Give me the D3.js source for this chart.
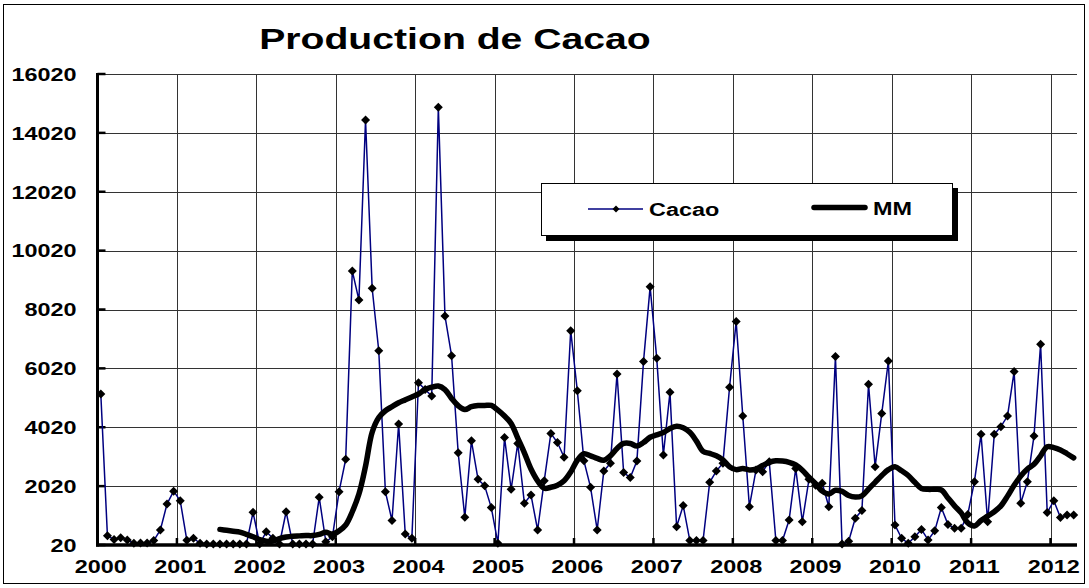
<!DOCTYPE html>
<html>
<head>
<meta charset="utf-8">
<script src="https://cdn.jsdelivr.net/npm/d3@7"></script>
<style>
  body { margin: 0; background: #fff; }
  text { font-family: "Liberation Sans", Arial, sans-serif; font-weight: bold; fill: #000; }
</style>
</head>
<body>
<svg id="chart" width="1089" height="588"></svg>
<script>
// monthly values, jan 2000 -> apr 2012
var yearLabels = ["2000","2001","2002","2003","2004","2005","2006","2007","2008","2009","2010","2011","2012"];
var yTicks = [20, 2020, 4020, 6020, 8020, 10020, 12020, 14020, 16020];

var cacao = [
  5150, 330, 210, 270, 190, 80, 90, 90, 170, 530, 1410, 1850,
  1525, 180, 250, 80, 50, 50, 50, 50, 50, 50, 50, 1130,
  54, 470, 250, 54, 1150, 54, 54, 54, 54, 1640, 130, 300,
  1830, 2930, 9330, 8340, 14460, 8740, 6620, 1830, 850, 4130, 390, 250,
  5530, 5300, 5080, 14890, 7800, 6450, 3155, 960, 3560, 2250, 2030, 1290,
  80, 3670, 1910, 3470, 1440, 1720, 530, 2200, 3810, 3500, 3000, 7300,
  5260, 2880, 1980, 530, 2530, 2800, 5830, 2480, 2310, 2870, 6250, 8790,
  6360, 3080, 5210, 640, 1360, 170, 170, 170, 2150, 2530, 2800, 5380,
  7610, 4400, 1320, 2570, 2510, 2850, 170, 170, 870, 2620, 810, 2250,
  2050, 2120, 1320, 6420, 54, 150, 930, 1190, 5480, 2680, 4490, 6270,
  700, 250, 80, 300, 550, 190, 500, 1290, 720, 590, 590, 1060,
  2170, 3780, 810, 3780, 4040, 4400, 5910, 1440, 2170, 3720, 6840, 1120,
  1525, 950, 1040, 1040
];

var mm = [
  null, null, null, null, null, null, null, null, null, null, null, null,
  null, null, null, null, null, null, 550, 520, 490, 460, 380, 300,
  200, 150, 150, 240, 290, 320, 330, 340, 340, 380, 450, 390,
  500, 700, 1150, 1750, 2700, 3850, 4350, 4580, 4720, 4850, 4950, 5050,
  5150, 5300, 5380, 5420, 5300, 5000, 4750, 4620, 4720, 4760, 4760, 4760,
  4600, 4400, 4150, 3650, 3150, 2600, 2200, 1950, 1980, 2050, 2200, 2500,
  2900, 3120, 3050, 2960, 2900, 3050, 3300, 3470, 3470, 3380, 3500, 3680,
  3760, 3840, 3980, 4050, 4000, 3850, 3550, 3200, 3130, 3050, 2910, 2680,
  2580, 2620, 2570, 2600, 2720, 2830, 2880, 2870, 2830, 2740, 2560, 2320,
  2100, 1850, 1750, 1880, 1840, 1700, 1650, 1690, 1920, 2150, 2380, 2580,
  2680, 2540, 2380, 2150, 1940, 1910, 1910, 1890, 1620, 1350, 1110, 770,
  665, 850, 1000, 1150, 1350, 1680, 2050, 2360, 2600, 2760, 3050, 3360,
  3330, 3250, 3120, 2980
];

var svg = d3.select("#chart");
var plotLeft = 97.5, plotRight = 1077, plotTop = 74, plotBottom = 545;
var stretch = 1.3;

var x = d3.scaleBand().domain(d3.range(cacao.length)).range([plotLeft, plotRight]).padding(0);
var cx = function (i) { return x(i) + x.bandwidth() / 2; };
var y = d3.scaleLinear().domain([20, 16020]).range([plotBottom, plotTop]);

function widen(sel, k) {
    sel.each(function () {
        var w = this.getComputedTextLength();
        d3.select(this).attr("textLength", w * (k || stretch)).attr("lengthAdjust", "spacingAndGlyphs");
    });
}

// outer frame
svg.append("rect").attr("x", 3.5).attr("y", 4.5).attr("width", 1081).attr("height", 579)
    .attr("fill", "#fff").attr("stroke", "#000").attr("stroke-width", 1);

// title
svg.append("text").attr("x", 455).attr("y", 49).attr("text-anchor", "middle")
    .style("font-size", "29px").text("Production de Cacao").call(widen, 1.35);

// gridlines
svg.append("g").selectAll("line").data(yTicks.slice(1)).enter().append("line")
    .attr("x1", plotLeft).attr("x2", plotRight)
    .attr("y1", function (d) { return Math.round(y(d)) + 0.5; })
    .attr("y2", function (d) { return Math.round(y(d)) + 0.5; })
    .attr("stroke", "#333").attr("stroke-width", 1);

var yearIdx = yearLabels.map(function (d, k) { return k * 12; });
svg.append("g").selectAll("line").data(yearIdx.slice(1)).enter().append("line")
    .attr("x1", function (d) { return Math.round(x(d)) + 0.5; })
    .attr("x2", function (d) { return Math.round(x(d)) + 0.5; })
    .attr("y1", plotTop).attr("y2", plotBottom)
    .attr("stroke", "#333").attr("stroke-width", 1);

// y axis
var gy = svg.append("g").attr("transform", "translate(" + plotLeft + ",0)")
    .call(d3.axisLeft(y).tickValues(yTicks).tickSize(0).tickPadding(21).tickFormat(d3.format("d")));
gy.select(".domain").remove();
gy.selectAll("text").style("font-size", "18px").attr("dy", "0.35em").call(widen);
svg.append("g").selectAll("line").data(yTicks).enter().append("line")
    .attr("x1", plotLeft).attr("x2", plotLeft + 8)
    .attr("y1", function (d) { return y(d); }).attr("y2", function (d) { return y(d); })
    .attr("stroke", "#000").attr("stroke-width", 2.5);

// x axis
var gx = svg.append("g").attr("transform", "translate(0," + plotBottom + ")")
    .call(d3.axisBottom(x).tickValues(yearIdx).tickSize(0).tickPadding(15)
        .tickFormat(function (d) { return yearLabels[d / 12]; }));
gx.select(".domain").remove();
gx.selectAll("text").style("font-size", "18px").call(widen);
svg.append("g").selectAll("line").data(yearIdx.slice(1)).enter().append("line")
    .attr("x1", function (d) { return x(d); }).attr("x2", function (d) { return x(d); })
    .attr("y1", plotBottom).attr("y2", plotBottom - 7)
    .attr("stroke", "#000").attr("stroke-width", 2.5);

// axis lines
svg.append("line").attr("x1", plotLeft).attr("x2", plotLeft).attr("y1", plotTop - 1).attr("y2", plotBottom + 1.5)
    .attr("stroke", "#000").attr("stroke-width", 3);
svg.append("line").attr("x1", plotLeft - 1.5).attr("x2", plotRight).attr("y1", plotBottom).attr("y2", plotBottom)
    .attr("stroke", "#000").attr("stroke-width", 3.5);

// cacao series
var line = d3.line().x(function (d, i) { return cx(i); }).y(function (d) { return y(d); });
svg.append("path").datum(cacao).attr("d", line)
    .attr("fill", "none").attr("stroke", "#000080").attr("stroke-width", 1.5);

var diamond = "M0,-4.5L4.5,0L0,4.5L-4.5,0Z";
svg.append("g").selectAll("path").data(cacao).enter().append("path")
    .attr("d", diamond)
    .attr("transform", function (d, i) { return "translate(" + cx(i) + "," + y(d) + ")"; })
    .attr("fill", "#000");

// moving average
var mmLine = d3.line()
    .defined(function (d) { return d != null; })
    .x(function (d, i) { return cx(i); }).y(function (d) { return y(d); })
    .curve(d3.curveCatmullRom.alpha(0.5));
svg.append("path").datum(mm).attr("d", mmLine)
    .attr("fill", "none").attr("stroke", "#000").attr("stroke-width", 5.5)
    .attr("stroke-linejoin", "round").attr("stroke-linecap", "round");

// legend
var lg = svg.append("g");
lg.append("rect").attr("x", 546).attr("y", 188).attr("width", 412).attr("height", 53).attr("fill", "#000");
lg.append("rect").attr("x", 541.5).attr("y", 183.5).attr("width", 411).attr("height", 52)
    .attr("fill", "#fff").attr("stroke", "#000").attr("stroke-width", 1);
lg.append("line").attr("x1", 588).attr("x2", 643).attr("y1", 209).attr("y2", 209)
    .attr("stroke", "#000080").attr("stroke-width", 1.5);
lg.append("path").attr("d", "M0,-3.5L3.5,0L0,3.5L-3.5,0Z").attr("transform", "translate(616,209)").attr("fill", "#000");
lg.append("text").attr("x", 649).attr("y", 215.5).style("font-size", "18px").text("Cacao").call(widen);
lg.append("line").attr("x1", 814).attr("x2", 865).attr("y1", 207.5).attr("y2", 207.5)
    .attr("stroke", "#000").attr("stroke-width", 5.5).attr("stroke-linecap", "round");
lg.append("text").attr("x", 873).attr("y", 214.5).style("font-size", "18px").text("MM").call(widen);
</script>
</body>
</html>
